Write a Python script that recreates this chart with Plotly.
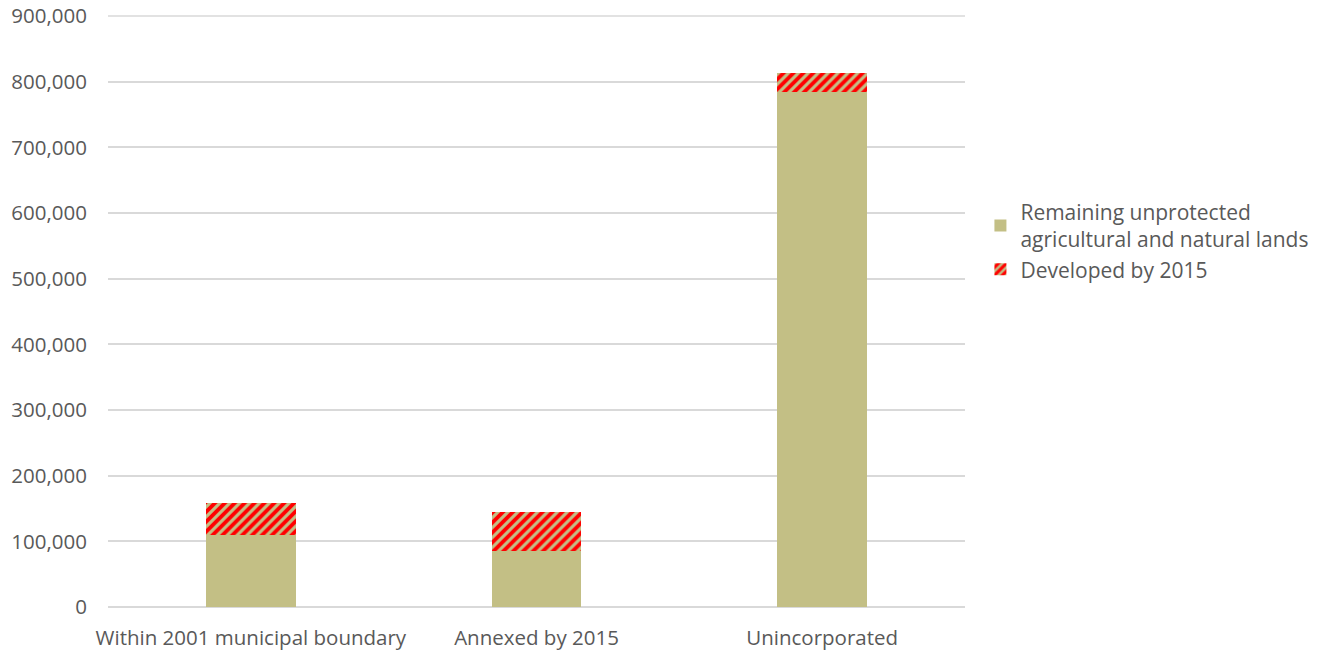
import plotly.graph_objects as go

categories = ["Within 2001 municipal boundary", "Annexed by 2015", "Unincorporated"]
remaining = [109000, 85000, 784000]
developed = [49000, 59000, 29000]
y_ticks = [i * 100000 for i in range(10)]

khaki = "#C3BF85"
red = "#FF0000"
text_color = "#595959"
grid_color = "#D9D9D9"

fig = go.Figure()
fig.add_trace(go.Bar(
    x=categories, y=remaining,
    name="Remaining unprotected<br>agricultural and natural lands",
    marker=dict(color=khaki, line=dict(width=0)),
))
fig.add_trace(go.Bar(
    x=categories, y=developed,
    name="Developed by 2015",
    marker=dict(
        color=khaki,
        line=dict(width=0),
        pattern=dict(shape="/", fgcolor=red, bgcolor=khaki, size=7, solidity=0.55, fgopacity=1),
    ),
))

# gridline along the top edge of the plot (the 900,000 level)
fig.add_shape(type="line", xref="paper", yref="paper", x0=0, x1=1, y0=1, y1=1,
              line=dict(color=grid_color, width=1.5), layer="below")

fig.update_layout(
    barmode="stack",
    bargap=0.685,
    width=1320, height=654,
    margin=dict(l=108, r=355, t=16, b=47, autoexpand=False),
    paper_bgcolor="white",
    plot_bgcolor="white",
    font=dict(family="Open Sans", size=21, color=text_color),
    legend=dict(
        traceorder="normal",
        x=1.018, xanchor="left",
        y=0.62, yanchor="middle",
        font=dict(size=21, color=text_color),
        bgcolor="rgba(0,0,0,0)",
        itemwidth=30,
        tracegroupgap=0,
    ),
    xaxis=dict(showline=False, ticks="", tickfont=dict(size=20.5),
               ticklabelstandoff=16, automargin=False),
    yaxis=dict(
        range=[0, y_ticks[-1]], tickvals=y_ticks, tickformat=",",
        showgrid=True, gridcolor=grid_color, gridwidth=1.5,
        zeroline=True, zerolinecolor=grid_color, zerolinewidth=1.5,
        showline=False, ticks="", ticklen=0,
        tickfont=dict(size=20.5), ticklabelstandoff=20, automargin=False,
    ),
)

fig.write_html("out.html")
